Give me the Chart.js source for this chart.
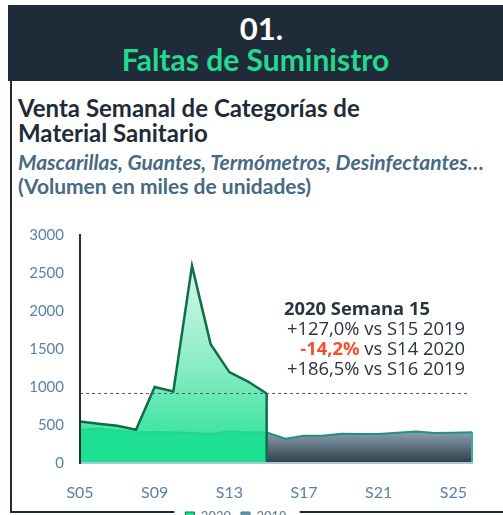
<!DOCTYPE html>
<html><head><meta charset="utf-8">
<script src="https://cdn.jsdelivr.net/npm/chart.js@4.4.1/dist/chart.umd.min.js"></script>
<style>
html,body{margin:0;padding:0;width:503px;height:515px;overflow:hidden;background:#fff;}
#hdr{position:absolute;left:8px;top:5px;width:495px;height:76px;background:#1f2b38;}
.hd{position:absolute;left:0;width:100%;text-align:center;font-family:Lato,sans-serif;font-weight:700;line-height:1.2;white-space:nowrap;}
#panel{position:absolute;left:10px;top:81px;width:500px;height:430px;border-left:2px solid #1f2b38;border-bottom:2px solid #1f2b38;}
.t{position:absolute;left:18px;font-family:Lato,sans-serif;white-space:nowrap;}
#ann{position:absolute;left:284px;top:298px;width:181px;font-family:"Open Sans",sans-serif;font-size:18.4px;line-height:20px;color:#2a3440;white-space:nowrap;}
#ann div{text-align:right;}
#ann div.b{text-align:left;font-weight:700;}
#c{position:absolute;left:0;top:210px;}
</style></head>
<body>
<div id="hdr">
  <div class="hd" style="top:5px;font-size:31px;color:#ffffff;padding-left:12px;box-sizing:border-box;">01.</div>
  <div class="hd" style="top:36px;font-size:30px;color:#22d98f;">Faltas de Suministro</div>
</div>
<div id="panel"></div>
<div class="t" style="top:95px;font-size:24px;font-weight:700;color:#1f2b38;line-height:25px;">Venta Semanal de Categorías de<br>Material Sanitario</div>
<div class="t" style="top:150px;font-size:21px;font-weight:700;font-style:italic;color:#456a85;line-height:24px;">Mascarillas, Guantes, Termómetros, Desinfectantes…</div>
<div class="t" style="top:174px;font-size:21px;font-weight:700;color:#456a85;line-height:24px;">(Volumen en miles de unidades)</div>
<canvas id="c" width="503" height="330"></canvas>
<div id="ann">
  <div class="b">2020 Semana 15</div>
  <div>+127,0% vs S15 2019</div>
  <div><span style="color:#f4502c;font-weight:700;">-14,2%</span> vs S14 2020</div>
  <div>+186,5% vs S16 2019</div>
</div>
<script>
const weeks = ['S05','S06','S07','S08','S09','S10','S11','S12','S13','S14','S15','S16','S17','S18','S19','S20','S21','S22','S23','S24','S25','S26'];
const sales2020 = [545, 517, 490, 438, 999, 942, 2593, 1564, 1196, 1072, 915, null, null, null, null, null, null, null, null, null, null, null];
const sales2019 = [438, 451, 425, 403, 407, 403, 394, 381, 416, 403, 403, 319, 360, 360, 386, 381, 381, 399, 416, 394, 399, 403];
const seriesNames = ['2020', '2019'];
const yTicks = [0, 500, 1000, 1500, 2000, 2500, 3000];

let lastIdx2020 = 0;
sales2020.forEach((v, i) => { if (v !== null) lastIdx2020 = i; });

const caches = {};
function vGrad(chart, name, topVal, stops) {
  const {ctx, chartArea, scales} = chart;
  if (!chartArea || !scales.y) return stops[stops.length - 1];
  const top = scales.y.getPixelForValue(topVal), bot = scales.y.getPixelForValue(0);
  const key = top + '|' + bot;
  if (caches[name] && caches[name].key === key) return caches[name].g;
  const g = ctx.createLinearGradient(0, top, 0, bot);
  stops.forEach((c, i) => g.addColorStop(i / (stops.length - 1), c));
  caches[name] = {key, g};
  return g;
}
const max2020 = Math.max(...sales2020.filter(v => v !== null));
const max2019 = Math.max(...sales2019);

const overlay = {
  id: 'overlay',
  beforeDraw(chart) {
    const lg = chart.legend;
    if (!lg || !lg.legendHitBoxes || !lg.legendHitBoxes.length) return;
    const hb = lg.legendHitBoxes;
    const l = Math.min(...hb.map(b => b.left)) - 11;
    const r = Math.max(...hb.map(b => b.left + b.width)) + 13;
    chart.ctx.save();
    chart.ctx.fillStyle = '#ffffff';
    chart.ctx.fillRect(l, lg.top, r - l, lg.height + 20);
    chart.ctx.restore();
  },
  afterDatasetsDraw(chart) {
    const {ctx, chartArea, scales: {x, y}} = chart;
    const y0 = y.getPixelForValue(0);
    const yRef = y.getPixelForValue(sales2020[lastIdx2020]);
    ctx.save();
    const xe = x.getPixelForValue(weeks.length - 1);
    ctx.strokeStyle = '#3aa9a0'; ctx.lineWidth = 2;
    ctx.beginPath(); ctx.moveTo(xe, y.getPixelForValue(sales2019[weeks.length - 1])); ctx.lineTo(xe, y0); ctx.stroke();
    const xs = x.getPixelForValue(lastIdx2020);
    ctx.strokeStyle = '#0f6e48'; ctx.lineWidth = 2.5;
    ctx.beginPath(); ctx.moveTo(xs, yRef); ctx.lineTo(xs, y0); ctx.stroke();
    ctx.setLineDash([3, 3]); ctx.strokeStyle = '#5a5a5a'; ctx.lineWidth = 1;
    ctx.beginPath(); ctx.moveTo(chartArea.left, yRef); ctx.lineTo(chartArea.right - 4, yRef); ctx.stroke();
    ctx.restore();
  }
};

const legendFill = ['#1ee093', '#6f8ea2'];
const legendStroke = ['#0f6e48', '#1f8f88'];

new Chart(document.getElementById('c'), {
  type: 'line',
  data: {
    labels: weeks,
    datasets: [
      {
        label: seriesNames[0],
        data: sales2020,
        order: 2,
        borderColor: '#0f6e48',
        borderWidth: 2.5,
        pointRadius: 0,
        tension: 0,
        fill: 'origin',
        backgroundColor: c => vGrad(c.chart, 'g2020', max2020, ['#d8f8eb', '#8aedc5', '#22e096'])
      },
      {
        label: seriesNames[1],
        data: sales2019,
        order: 1,
        borderColor: '#1f8f88',
        borderWidth: 2,
        pointRadius: 0,
        tension: 0,
        fill: 'origin',
        backgroundColor: '#6f8ea2',
        segment: {
          borderColor: c => c.p0DataIndex < lastIdx2020 ? '#26d393' : '#1f8f88',
          backgroundColor: c => c.p0DataIndex < lastIdx2020 ? '#1ee093' : vGrad(c.chart, 'g2019', max2019, ['#93a9b9', '#2f3e4a'])
        }
      }
    ]
  },
  options: {
    responsive: false,
    animation: false,
    devicePixelRatio: 1,
    layout: { padding: { left: 0, right: 31, top: 7, bottom: 7 } },
    plugins: {
      tooltip: { enabled: false },
      legend: {
        display: true,
        position: 'bottom',
        labels: {
          font: { family: 'Lato', size: 13 },
          color: '#5d7a90',
          boxWidth: 9,
          boxHeight: 9,
          padding: 10,
          generateLabels(chart) {
            const items = Chart.defaults.plugins.legend.labels.generateLabels(chart);
            items.forEach(it => {
              it.fillStyle = legendFill[it.datasetIndex];
              it.strokeStyle = legendStroke[it.datasetIndex];
              it.lineWidth = 1;
            });
            return items.sort((a, b) => a.datasetIndex - b.datasetIndex);
          }
        }
      }
    },
    scales: {
      x: {
        type: 'category',
        offset: false,
        afterFit(axis) { axis.height = 37; },
        grid: { display: false, drawTicks: false },
        border: { display: true, color: '#a9c9cc', width: 2, z: 1 },
        ticks: {
          autoSkip: false,
          maxRotation: 0,
          padding: 20,
          color: '#5b82a5',
          font: { family: 'Lato', size: 16 },
          callback: function (v, i) { return i % 4 === 0 ? weeks[i] : ''; }
        }
      },
      y: {
        min: 0,
        max: 3000,
        afterFit(axis) { axis.width = 80; },
        afterBuildTicks(axis) { axis.ticks = yTicks.map(v => ({ value: v })); },
        grid: { display: false, drawTicks: false },
        border: { display: true, color: '#22303c', width: 2, z: 1 },
        ticks: {
          padding: 16,
          color: '#5b82a5',
          font: { family: 'Lato', size: 15 },
          callback: v => String(v)
        }
      }
    }
  },
  plugins: [overlay]
});
</script>
</body></html>
